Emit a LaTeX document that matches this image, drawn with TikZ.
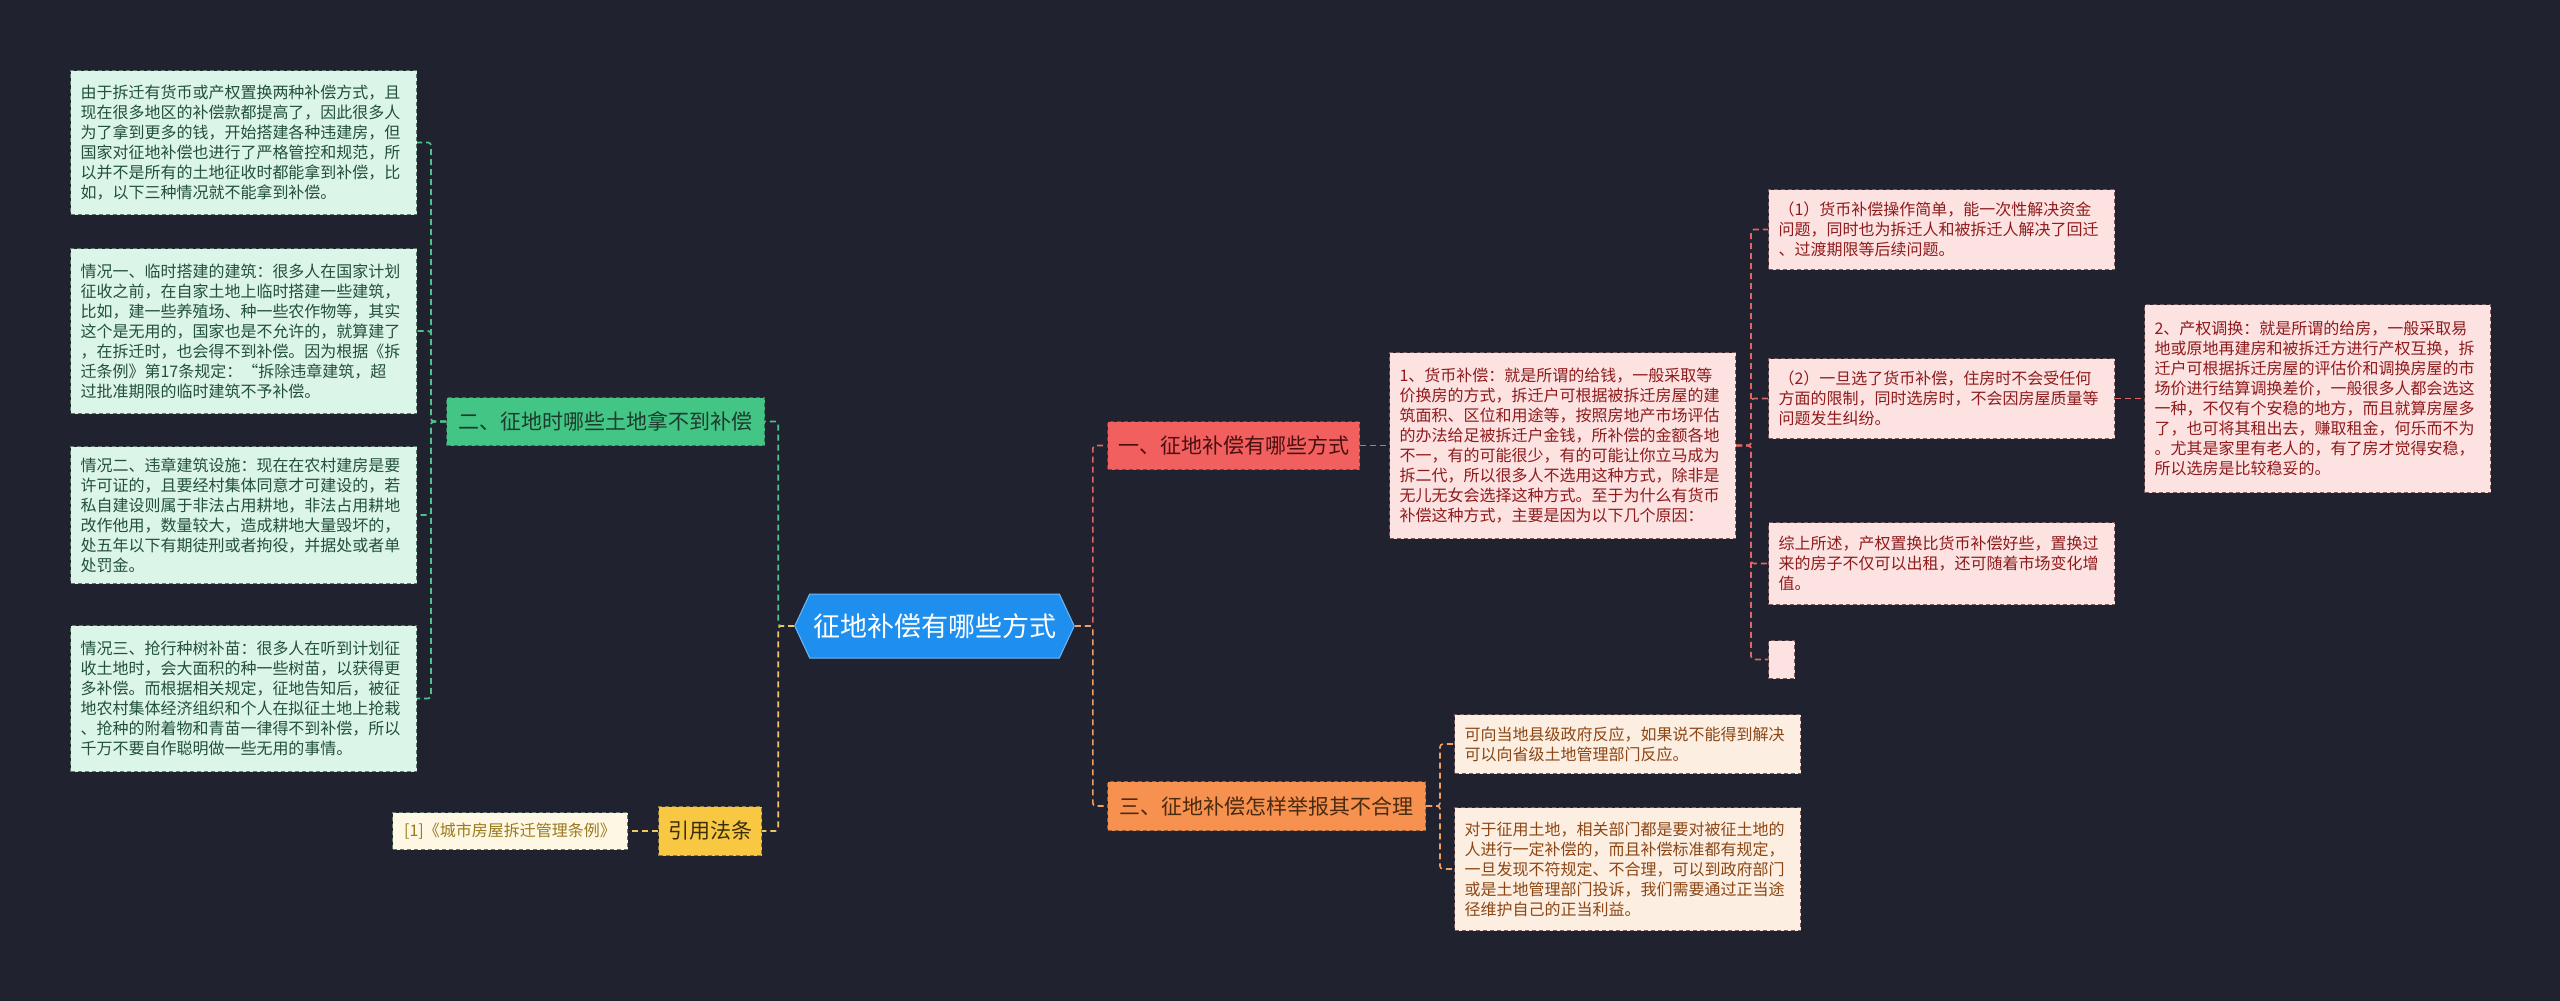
\documentclass[tikz,border=0pt]{standalone}
\usepackage{fontspec}
\setmainfont{Noto Sans CJK SC}
\usetikzlibrary{shapes.symbols}
\definecolor{bg}{HTML}{20232F}
\definecolor{hexfill}{HTML}{1E8FEF}
\definecolor{hexdraw}{HTML}{6DB8F7}
\definecolor{gfill}{HTML}{43C586}
\definecolor{gtext}{HTML}{1D3B2C}
\definecolor{gline}{HTML}{4DC48C}
\definecolor{glfill}{HTML}{DCF5E9}
\definecolor{gltext}{HTML}{22503A}
\definecolor{gldraw}{HTML}{5E7A6C}
\definecolor{yfill}{HTML}{F9C843}
\definecolor{ytext}{HTML}{3A2E0C}
\definecolor{yline}{HTML}{F2C65A}
\definecolor{ylfill}{HTML}{FDF7E3}
\definecolor{yltext}{HTML}{9A7A1E}
\definecolor{rfill}{HTML}{F25F5F}
\definecolor{rtext}{HTML}{4A1010}
\definecolor{rline}{HTML}{E06565}
\definecolor{rlfill}{HTML}{FDE2E2}
\definecolor{rltext}{HTML}{8E1B1B}
\definecolor{rldraw}{HTML}{7A5A5A}
\definecolor{ofill}{HTML}{F7914F}
\definecolor{otext}{HTML}{4A2A10}
\definecolor{oline}{HTML}{F0A063}
\definecolor{olfill}{HTML}{FDEEE2}
\definecolor{oltext}{HTML}{8B4614}
\begin{document}
\begin{tikzpicture}[x=1pt,y=-1pt,
  bdash/.style={dash pattern=on 4pt off 3pt, line width=1pt},
  leaf/.style={bdash, inner xsep=10pt, inner ysep=6pt, align=left, text width=326pt,
    font=\fontsize{16}{20}\selectfont, anchor=north west},
  gleaf/.style={leaf, fill=glfill, draw=gldraw, text=gltext},
  rleaf/.style={leaf, fill=rlfill, draw=rldraw, text=rltext},
  oleaf/.style={leaf, fill=olfill, draw=rldraw, text=oltext},
  branch/.style={bdash, anchor=north west, inner sep=0pt, align=center,
    font=\fontsize{21}{25}\selectfont},
  conn/.style={line width=1.6pt, dash pattern=on 6pt off 4pt, rounded corners=3pt},
  gconn/.style={conn, draw=gline},
  yconn/.style={conn, draw=yline},
  rconn/.style={conn, draw=rline},
  oconn/.style={conn, draw=oline}]
\fill[bg] (0,0) rectangle (2560,1001);
\useasboundingbox (0,0) rectangle (2560,1001);

% root
\node[signal, signal to=west and east, signal pointer angle=130,
  minimum width=279pt, minimum height=64pt, fill=hexfill, draw=hexdraw, line width=1pt,
  text=white, font=\fontsize{27}{32}\selectfont] (root) at (934.5,626) {征地补偿有哪些方式};

% left side
\node[branch, fill=gfill, draw=gline!60!black, text=gtext, minimum width=318pt, minimum height=48pt]
  (g) at (446,397) {二、征地时哪些土地拿不到补偿};
\node[branch, fill=yfill, draw=yline!60!black, text=ytext, minimum width=103pt, minimum height=49pt]
  (y) at (658,806) {引用法条};
\node[bdash, anchor=north west, fill=ylfill, draw=gldraw, text=yltext, inner sep=0pt,
  minimum width=235pt, minimum height=37pt, font=\fontsize{16}{20}\selectfont]
  (cit) at (392,812) {[1]《城市房屋拆迁管理条例》};

\node[gleaf, minimum height=144pt] (l1) at (70,70) {由于拆迁有货币或产权置换两种补偿方式，且\\现在很多地区的补偿款都提高了，因此很多人\\为了拿到更多的钱，开始搭建各种违建房，但\\国家对征地补偿也进行了严格管控和规范，所\\以并不是所有的土地征收时都能拿到补偿，比\\如，以下三种情况就不能拿到补偿。};
\node[gleaf, minimum height=165pt] (l2) at (70,248) {情况一、临时搭建的建筑：很多人在国家计划\\征收之前，在自家土地上临时搭建一些建筑，\\比如，建一些养殖场、种一些农作物等，其实\\这个是无用的，国家也是不允许的，就算建了\\，在拆迁时，也会得不到补偿。因为根据《拆\\迁条例》第17条规定：“拆除违章建筑，超\\过批准期限的临时建筑不予补偿。};
\node[gleaf, minimum height=137pt] (l3) at (70,446) {情况二、违章建筑设施：现在在农村建房是要\\许可证的，且要经村集体同意才可建设的，若\\私自建设则属于非法占用耕地，非法占用耕地\\改作他用，数量较大，造成耕地大量毁坏的，\\处五年以下有期徒刑或者拘役，并据处或者单\\处罚金。};
\node[gleaf, minimum height=146pt] (l4) at (70,625) {情况三、抢行种树补苗：很多人在听到计划征\\收土地时，会大面积的种一些树苗，以获得更\\多补偿。而根据相关规定，征地告知后，被征\\地农村集体经济组织和个人在拟征土地上抢栽\\、抢种的附着物和青苗一律得不到补偿，所以\\千万不要自作聪明做一些无用的事情。};

% right side
\node[branch, fill=rfill, draw=rline!60!black, text=rtext, minimum width=252pt, minimum height=48pt]
  (r) at (1107,421) {一、征地补偿有哪些方式};
\node[branch, fill=ofill, draw=oline!60!black, text=otext, minimum width=318pt, minimum height=49pt]
  (o) at (1107,781) {三、征地补偿怎样举报其不合理};

\node[rleaf, minimum height=186pt] (p0) at (1389,352) {1、货币补偿：就是所谓的给钱，一般采取等\\价换房的方式，拆迁户可根据被拆迁房屋的建\\筑面积、区位和用途等，按照房地产市场评估\\的办法给足被拆迁户金钱，所补偿的金额各地\\不一，有的可能很少，有的可能让你立马成为\\拆二代，所以很多人不选用这种方式，除非是\\无儿无女会选择这种方式。至于为什么有货币\\补偿这种方式，主要是因为以下几个原因：};
\node[rleaf, minimum height=80pt] (q1) at (1768,189) {（1）货币补偿操作简单，能一次性解决资金\\问题，同时也为拆迁人和被拆迁人解决了回迁\\、过渡期限等后续问题。};
\node[rleaf, minimum height=80pt] (q2) at (1768,358) {（2）一旦选了货币补偿，住房时不会受任何\\方面的限制，同时选房时，不会因房屋质量等\\问题发生纠纷。};
\node[rleaf, minimum height=82pt] (q3) at (1768,522) {综上所述，产权置换比货币补偿好些，置换过\\来的房子不仅可以出租，还可随着市场变化增\\值。};
\node[bdash, anchor=north west, fill=rlfill, draw=rldraw, inner sep=0pt,
  minimum width=26pt, minimum height=38pt] (q4) at (1768,640) {};
\node[rleaf, minimum height=188pt] (p2) at (2144,304) {2、产权调换：就是所谓的给房，一般采取易\\地或原地再建房和被拆迁方进行产权互换，拆\\迁户可根据拆迁房屋的评估价和调换房屋的市\\场价进行结算调换差价，一般很多人都会选这\\一种，不仅有个安稳的地方，而且就算房屋多\\了，也可将其租出去，赚取租金，何乐而不为\\。尤其是家里有老人的，有了房才觉得安稳，\\所以选房是比较稳妥的。};

\node[oleaf, minimum height=59pt] (oa) at (1454,714) {可向当地县级政府反应，如果说不能得到解决\\可以向省级土地管理部门反应。};
\node[oleaf, minimum height=123pt] (ob) at (1454,807) {对于征用土地，相关部门都是要对被征土地的\\人进行一定补偿的，而且补偿标准都有规定，\\一旦发现不符规定、不合理，可以到政府部门\\或是土地管理部门投诉，我们需要通过正当途\\径维护自己的正当利益。};

% connectors left
\draw[gconn] (root.west) -- ++(-16,0) |- (g.east);
\draw[yconn] (root.west) -- ++(-16,0) |- (y.east);
\draw[yconn] (y.west) -- (cit.east);
\foreach \n in {l1,l2,l3,l4} \draw[gconn] (g.west) -- ++(-15,0) |- (\n.east);

% connectors right
\draw[rconn] (root.east) -- ++(18,0) |- (r.west);
\draw[oconn] (root.east) -- ++(18,0) |- (o.west);
\draw[rconn] (r.east) -- (p0.west);
\foreach \n in {q1,q2,q3,q4} \draw[rconn] (p0.east) -- ++(15,0) |- (\n.west);
\draw[rconn] (q2.east) -- (p2.west);
\foreach \n in {oa,ob} \draw[oconn] (o.east) -- ++(14,0) |- (\n.west);
\end{tikzpicture}
\end{document}
